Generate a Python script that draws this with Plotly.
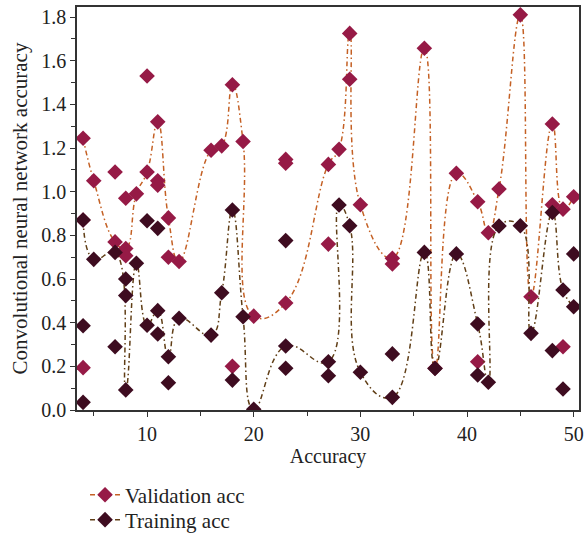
import plotly.graph_objects as go

# Validation acc: points joined by the curve
val_line_x = [4, 5, 7, 8, 9, 10, 11, 12, 13, 16, 17, 18, 19, 20, 23, 27, 28, 29, 30, 33, 36, 37, 39, 41, 42, 43, 45, 46, 48, 49, 50]
val_line_y = [1.245, 1.05, 0.77, 0.74, 0.99, 1.09, 1.32, 0.88, 0.68, 1.19, 1.21, 1.49, 1.23, 0.43, 0.49, 1.125, 1.194, 1.725, 0.94, 0.695, 1.657, 0.191, 1.084, 0.954, 0.812, 1.012, 1.81, 0.519, 1.31, 0.92, 0.977]
# Validation acc: additional scattered points
val_extra_x = [4, 4, 7, 8, 8, 10, 11, 11, 12, 18, 23, 23, 27, 29, 33, 41, 48, 49]
val_extra_y = [0.87, 0.194, 1.09, 0.97, 0.707, 1.53, 1.05, 1.03, 0.70, 0.20, 1.148, 1.13, 0.76, 1.515, 0.669, 0.221, 0.94, 0.29]

# Training acc: points joined by the curve
tr_line_x = [4, 5, 7, 8, 9, 10, 11, 12, 13, 16, 17, 18, 19, 20, 23, 27, 28, 29, 30, 33, 36, 37, 39, 41, 42, 43, 45, 46, 48, 49, 50]
tr_line_y = [0.87, 0.69, 0.722, 0.092, 0.672, 0.388, 0.455, 0.244, 0.42, 0.343, 0.537, 0.916, 0.427, 0.003, 0.293, 0.221, 0.939, 0.844, 0.173, 0.058, 0.722, 0.19, 0.715, 0.394, 0.127, 0.843, 0.844, 0.351, 0.905, 0.55, 0.473]
# Training acc: additional scattered points
tr_extra_x = [4, 4, 7, 8, 8, 10, 11, 11, 12, 18, 23, 23, 27, 33, 41, 48, 49, 50]
tr_extra_y = [0.386, 0.035, 0.29, 0.600, 0.524, 0.867, 0.832, 0.348, 0.125, 0.137, 0.776, 0.191, 0.157, 0.257, 0.16, 0.272, 0.096, 0.715]

VAL_M = "rgb(150,26,70)"
VAL_L = "rgb(196,96,36)"
TR_M = "rgb(62,12,32)"
TR_L = "rgb(96,62,22)"
DASH = "5px,3px,1.5px,3px"
FONT = "Liberation Serif"
TXT = "#222222"

fig = go.Figure()
fig.add_trace(go.Scatter(x=val_line_x, y=val_line_y, mode="lines+markers", name="Validation acc",
                         legend="legend",
                         line=dict(color=VAL_L, width=1.5, dash=DASH, shape="spline", smoothing=1.3),
                         marker=dict(symbol="diamond", size=12, color=VAL_M, line=dict(width=0))))
fig.add_trace(go.Scatter(x=val_extra_x, y=val_extra_y, mode="markers", showlegend=False,
                         marker=dict(symbol="diamond", size=12, color=VAL_M, line=dict(width=0))))
fig.add_trace(go.Scatter(x=tr_line_x, y=tr_line_y, mode="lines+markers", name="Training acc",
                         legend="legend2",
                         line=dict(color=TR_L, width=1.5, dash=DASH, shape="spline", smoothing=1.3),
                         marker=dict(symbol="diamond", size=12, color=TR_M, line=dict(width=0))))
fig.add_trace(go.Scatter(x=tr_extra_x, y=tr_extra_y, mode="markers", showlegend=False,
                         marker=dict(symbol="diamond", size=12, color=TR_M, line=dict(width=0))))

axis_common = dict(showline=True, linecolor="#333333", linewidth=1.5, mirror=True,
                   ticks="outside", ticklen=5, tickwidth=1.2, tickcolor="#333333",
                   showgrid=False, zeroline=False, automargin=False,
                   tickfont=dict(family=FONT, size=20, color=TXT),
                   minor=dict(ticks="outside", ticklen=4, tickwidth=1.2, tickcolor="#333333", showgrid=False))

fig.update_xaxes(range=[3.43, 50.5], tick0=10, dtick=10, minor_dtick=5,
                 title=dict(text="Accuracy", font=dict(family=FONT, size=20, color=TXT), standoff=4),
                 **axis_common)
fig.update_yaxes(range=[0, 1.846], tick0=0, dtick=0.2, tickformat=".1f", minor_dtick=0.1,
                 title=dict(text="Convolutional neural network accuracy", font=dict(family=FONT, size=21, color=TXT), standoff=8),
                 **axis_common)

leg_common = dict(x=0.016, xanchor="left", yanchor="middle", orientation="v",
                  font=dict(family=FONT, size=21, color=TXT),
                  bgcolor="rgba(0,0,0,0)", itemwidth=30)

fig.update_layout(width=585, height=535, margin=dict(l=77, r=6, t=7, b=125, autoexpand=False),
                  plot_bgcolor="white", paper_bgcolor="white",
                  legend=dict(y=-0.211, **leg_common),
                  legend2=dict(y=-0.273, **leg_common))

fig.write_html("out.html")
